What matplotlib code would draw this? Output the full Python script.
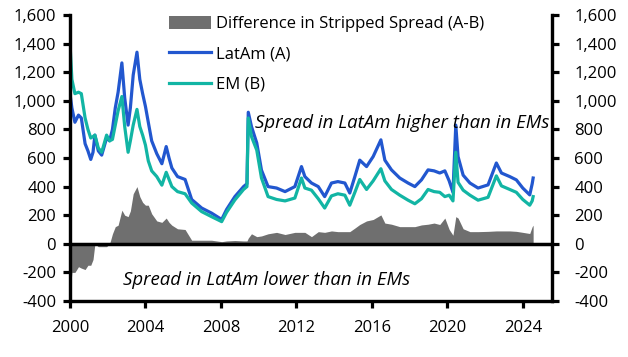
import numpy as np
import matplotlib
matplotlib.use("Agg")
import matplotlib.pyplot as plt

plt.rcParams["font.family"] = ["Open Sans", "DejaVu Sans"]

# Values (stripped spreads, bp)
years = [2000.0, 2000.1, 2000.26, 2000.45, 2000.6, 2000.8, 2000.95, 2001.1, 2001.22,
         2001.32, 2001.5, 2001.68, 2001.94, 2002.1, 2002.25, 2002.4, 2002.55, 2002.75,
         2002.9, 2003.08, 2003.2, 2003.35, 2003.55, 2003.7, 2003.85, 2004.0, 2004.15,
         2004.33, 2004.6, 2004.87, 2005.1, 2005.25, 2005.4, 2005.7, 2006.1, 2006.45,
         2006.98, 2007.5, 2008.04, 2008.3, 2008.74, 2009.2, 2009.38, 2009.45, 2009.62,
         2009.9, 2010.15, 2010.5, 2010.95, 2011.4, 2011.92, 2012.27, 2012.45, 2012.8,
         2013.16, 2013.5, 2013.86, 2014.2, 2014.57, 2014.83, 2015.1, 2015.36, 2015.72,
         2016.07, 2016.48, 2016.69, 2017.04, 2017.48, 2017.92, 2018.28, 2018.63, 2018.98,
         2019.3, 2019.6, 2019.87, 2020.1, 2020.3, 2020.45, 2020.57, 2020.84, 2021.2,
         2021.63, 2022.16, 2022.6, 2022.87, 2023.31, 2023.66, 2024.0, 2024.37, 2024.5,
         2024.55]
latam = [1050, 950, 850, 900, 880, 700, 650, 590, 640,
         760, 650, 620, 740, 720, 800, 950, 1060, 1265,
         1020, 830, 950, 1180, 1340, 1150, 1050, 960, 850,
         720, 630, 560, 680, 600, 530, 470, 450, 310,
         250, 215, 170, 240, 330, 400, 420, 920, 820,
         705, 515, 400, 390, 365, 400, 540, 470, 425,
         400, 330, 425, 435, 425, 355, 470, 585, 540,
         610, 727, 585, 517, 460, 425, 400, 447, 517,
         510, 495, 510, 440, 360, 830, 610, 480, 425,
         390, 412, 565, 495, 470, 447, 390, 342, 420,
         460]
em = [1400, 1150, 1050, 1060, 1050, 880, 800, 740, 750,
      760, 670, 640, 760, 720, 730, 830, 930, 1030,
      820, 640, 720, 830, 940, 820, 760, 690, 580,
      510, 470, 410, 500, 450, 400, 365, 350, 285,
      225, 190, 155, 220, 307, 380, 400, 880, 750,
      655, 460, 330, 310, 300, 320, 460, 390, 375,
      315, 250, 335, 350, 340, 270, 360, 450, 380,
      440, 525, 440, 380, 340, 305, 280, 315, 380,
      365, 360, 330, 340, 300, 640, 430, 375, 340,
      305, 325, 475, 405, 380, 360, 310, 270, 300,
      330]

x = np.array(years)
a = np.array(latam)
b = np.array(em)
diff = a - b

fig = plt.figure(figsize=(6.28, 3.57), dpi=100)
ax = fig.add_axes([70 / 628, 1 - 301 / 357, 482 / 628, 286 / 357])

ax.fill_between(x, 0, diff, color="#6f6f6f", lw=0, label="Difference in Stripped Spread (A-B)")
ax.plot(x, a, color="#2257cf", lw=2.3, label="LatAm (A)")
ax.plot(x, b, color="#12b5a4", lw=2.3, label="EM (B)")
ax.axhline(0, color="black", lw=2.5)

ax.set_xlim(2000, 2025.55)
ax.set_ylim(-400, 1600)
ax.set_xticks(range(2000, 2025, 4))
ax.set_yticks(range(-400, 1601, 200))
fmt = matplotlib.ticker.FuncFormatter(lambda v, p: f"{int(v):,}")
ax.yaxis.set_major_formatter(fmt)

ax2 = ax.twinx()
ax2.set_ylim(-400, 1600)
ax2.set_yticks(range(-400, 1601, 200))
ax2.yaxis.set_major_formatter(fmt)

for axis in (ax, ax2):
    axis.spines["top"].set_visible(False)
    for s in ("left", "right", "bottom"):
        axis.spines[s].set_linewidth(2.3)
    axis.tick_params(width=2.3, length=5, labelsize=12, colors="black")
ax.tick_params(axis="x", pad=9)
ax.tick_params(axis="y", pad=5)
ax2.tick_params(axis="y", pad=11)

ax.text(2009.8, 845, "Spread in LatAm higher than in EMs", style="italic", fontsize=13.4,
        va="center", ha="left")
ax.text(2002.8, -250, "Spread in LatAm lower than in EMs", style="italic", fontsize=13.4,
        va="center", ha="left")

ax.legend(loc="upper left", bbox_to_anchor=(0.192, 1.02), frameon=False, fontsize=12,
          handlelength=2.5, handleheight=0.8, labelspacing=0.85, handletextpad=0.3,
          borderaxespad=0)

fig.savefig("out.png", dpi=100)
